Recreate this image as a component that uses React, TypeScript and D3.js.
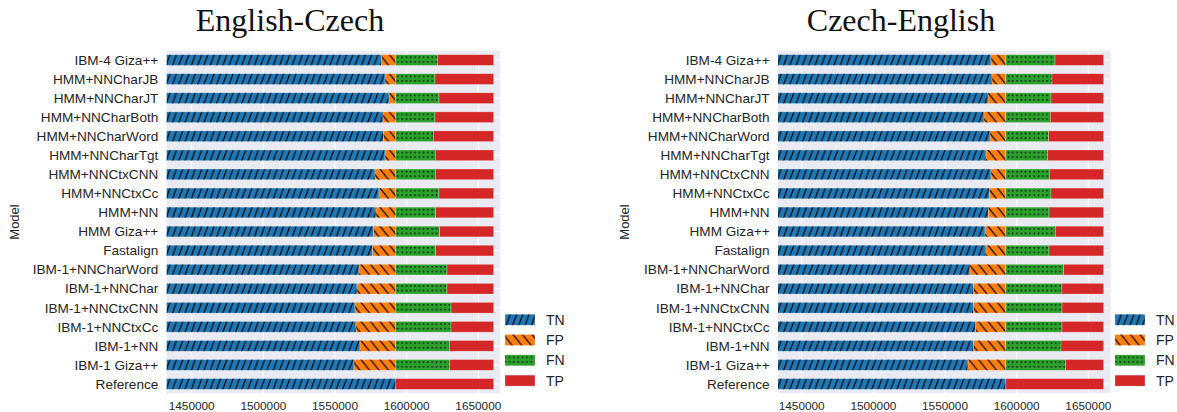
import React from "react";
import * as d3 from "d3";

const models = [
  "IBM-4 Giza++", "HMM+NNCharJB", "HMM+NNCharJT", "HMM+NNCharBoth", "HMM+NNCharWord",
  "HMM+NNCharTgt", "HMM+NNCtxCNN", "HMM+NNCtxCc", "HMM+NN", "HMM Giza++", "Fastalign",
  "IBM-1+NNCharWord", "IBM-1+NNChar", "IBM-1+NNCtxCNN", "IBM-1+NNCtxCc", "IBM-1+NN",
  "IBM-1 Giza++", "Reference",
];

const seriesNames = ["TN", "FP", "FN", "TP"];
const xTicks = [1450000, 1500000, 1550000, 1600000, 1650000];

// English-Czech
const enCsTN = [1582580, 1584890, 1587680, 1583490, 1583700, 1584890, 1577910, 1580700, 1578610, 1577000, 1576300, 1566740, 1565350, 1563950, 1564650, 1567440, 1563250, 1592450];
const enCsFP = [9870, 7560, 4770, 8960, 8750, 7560, 14540, 11750, 13840, 15450, 16150, 25710, 27100, 28500, 27800, 25010, 29200, 0];
const enCsFN = [29210, 27330, 30120, 27330, 26140, 27530, 27530, 30120, 27810, 30600, 27810, 35700, 35700, 38490, 38490, 37580, 37580, 0];
const enCsTP = [39040, 40920, 38130, 40920, 42110, 40720, 40720, 38130, 40440, 37650, 40440, 32550, 32550, 29760, 29760, 30670, 30670, 68250];

// Czech-English
const csEnTN = [1582090, 1582790, 1580000, 1577210, 1581400, 1578610, 1582090, 1581190, 1580210, 1577910, 1578610, 1567440, 1570020, 1570020, 1571420, 1570020, 1566040, 1592450];
const csEnFP = [10360, 9660, 12450, 15240, 11050, 13840, 10360, 11260, 12240, 14540, 13840, 25010, 22430, 22430, 21030, 22430, 26410, 0];
const csEnFN = [34300, 32210, 31510, 31020, 29910, 29210, 30330, 31510, 30120, 34510, 30120, 40370, 39190, 39190, 39190, 38490, 41770, 0];
const csEnTP = [33950, 36040, 36740, 37230, 38340, 39040, 37920, 36740, 38130, 33740, 38130, 27880, 29060, 29060, 29060, 29760, 26480, 68250];

const colors = ["#1f77b4", "#ff7f0e", "#2ca02c", "#d62728"];
const fills = ["url(#hTN)", "url(#hFP)", "url(#hFN)", null];
const SANS = "'Liberation Sans', Arial, sans-serif";
const TEXT = "#262626";

const BAR_H = 10.7;
const PLOT_TOP = 50.7;
const PLOT_BOT = 393.3;

function Patterns() {
  const w1 = 6.3, h1 = 17.3;
  const w2 = 9.5, h2 = 11.9;
  return (
    <defs>
      <pattern id="hTN" patternUnits="userSpaceOnUse" width={w1} height={h1}>
        <line x1={-w1} y1={2 * h1} x2={2 * w1} y2={-h1} stroke="#000" strokeWidth={1.1} />
        <line x1={-w1 * 2} y1={2 * h1} x2={w1} y2={-h1} stroke="#000" strokeWidth={1.1} />
        <line x1={0} y1={2 * h1} x2={3 * w1} y2={-h1} stroke="#000" strokeWidth={1.1} />
      </pattern>
      <pattern id="hFP" patternUnits="userSpaceOnUse" width={w2} height={h2}>
        <line x1={-w2} y1={-h2} x2={2 * w2} y2={2 * h2} stroke="#000" strokeWidth={1.1} />
        <line x1={-2 * w2} y1={-h2} x2={w2} y2={2 * h2} stroke="#000" strokeWidth={1.1} />
        <line x1={0} y1={-h2} x2={3 * w2} y2={2 * h2} stroke="#000" strokeWidth={1.1} />
      </pattern>
      <pattern id="hFN" patternUnits="userSpaceOnUse" width={4.3} height={4.6} y={1.8}>
        <rect x={1.5} y={0} width={1.4} height={1.4} fill="#000" />
      </pattern>
    </defs>
  );
}

function Seg({ x, w, h, i }: { x: number; w: number; h: number; i: number }) {
  if (w <= 0) return null;
  return (
    <g>
      <rect x={x} y={0} width={w} height={h} fill={colors[i]} />
      {fills[i] && <rect x={x} y={0} width={w} height={h} fill={fills[i] as string} />}
      <rect x={x} y={0} width={w} height={h} fill="none" stroke="#fff" strokeOpacity={0.45} strokeWidth={0.6} />
    </g>
  );
}

function Panel(props: {
  title: string; titleX: number; x0: number; x1: number; domain: [number, number];
  tn: number[]; fp: number[]; fn: number[]; tp: number[]; modelX: number; legendX: number;
}) {
  const { title, titleX, x0, x1, domain, tn, fp, fn, tp, modelX, legendX } = props;
  const x = d3.scaleLinear().domain(domain).range([x0, x1]);
  const y = d3.scalePoint<string>().domain(models).range([PLOT_TOP, PLOT_BOT]).padding(0.49);
  const clipId = "clip" + title.replace(/[^A-Za-z]/g, "");
  const series = [tn, fp, fn, tp];
  return (
    <g>
      <clipPath id={clipId}>
        <rect x={x0} y={PLOT_TOP} width={x1 - x0} height={PLOT_BOT - PLOT_TOP} />
      </clipPath>
      <text x={titleX} y={30.7} textAnchor="middle" fontFamily="'Liberation Serif', 'DejaVu Serif', serif" fontSize={32} fill="#111">{title}</text>
      <rect x={x0} y={PLOT_TOP} width={x1 - x0} height={PLOT_BOT - PLOT_TOP} fill="#EAEAF2" />
      {xTicks.map((t) => (
        <line key={"gx" + t} x1={x(t)} x2={x(t)} y1={PLOT_TOP} y2={PLOT_BOT} stroke="#fff" strokeWidth={1} />
      ))}
      {models.map((m) => (
        <line key={"gy" + m} x1={x0} x2={x1} y1={y(m)} y2={y(m)} stroke="#fff" strokeWidth={1} />
      ))}
      <g clipPath={`url(#${clipId})`}>
        {models.map((m, r) => {
          let acc = 0;
          const yc = y(m) as number;
          return (
            <g key={"bar" + m} transform={`translate(0,${yc - BAR_H / 2})`}>
              {series.map((s, i) => {
                const start = i === 0 ? domain[0] - 50000 : acc;
                const end = acc + s[r];
                acc = end;
                return <Seg key={i} x={x(start)} w={x(end) - x(start)} h={BAR_H} i={i} />;
              })}
            </g>
          );
        })}
      </g>
      {models.map((m) => (
        <text key={"lab" + m} x={x0 - 8.4} y={y(m)} dy="0.35em" textAnchor="end" fontFamily={SANS} fontSize={13.6} fill={TEXT}>{m}</text>
      ))}
      {xTicks.map((t) => (
        <text key={"tl" + t} x={x(t)} y={409.8} textAnchor="middle" fontFamily={SANS} fontSize={11.8} fill={TEXT}>{t}</text>
      ))}
      <text transform={`translate(${modelX},${(PLOT_TOP + PLOT_BOT) / 2}) rotate(-90)`} dy="0.35em" textAnchor="middle" fontFamily={SANS} fontSize={13} fill={TEXT}>Model</text>
      {seriesNames.map((s, i) => {
        const cy = 319.7 + i * 20.3;
        return (
          <g key={"lg" + s}>
            <g transform={`translate(0,${cy - 5.5})`}>
              <Seg x={legendX} w={30} h={11} i={i} />
            </g>
            <text x={legendX + 41} y={cy} dy="0.36em" fontFamily={SANS} fontSize={14} fill={TEXT}>{s}</text>
          </g>
        );
      })}
    </g>
  );
}

export default function App() {
  return (
    <svg width={1177} height={412} style={{ position: "absolute", left: 0, top: 0, background: "#fff" }}>
      <Patterns />
      <Panel title="English-Czech" titleX={290} x0={166.7} x1={500} domain={[1432555, 1665130]}
        tn={enCsTN} fp={enCsFP} fn={enCsFN} tp={enCsTP} modelX={14} legendX={505} />
      <Panel title="Czech-English" titleX={901} x0={778} x1={1110.7} domain={[1433460, 1665620]}
        tn={csEnTN} fp={csEnFP} fn={csEnFN} tp={csEnTP} modelX={624} legendX={1115} />
    </svg>
  );
}
